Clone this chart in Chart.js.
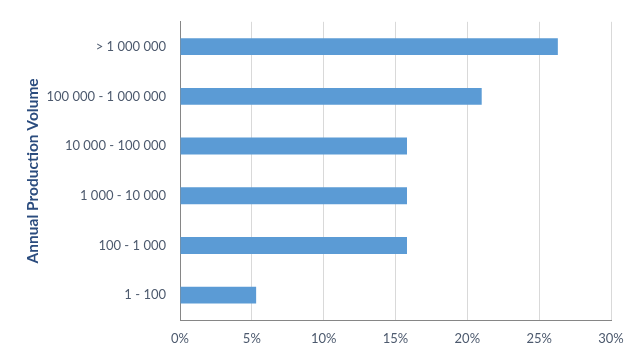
<!DOCTYPE html>
<html><head><meta charset="utf-8">
<script src="https://cdn.jsdelivr.net/npm/chart.js@4"></script>
<style>html,body{margin:0;padding:0;background:#fff}#wrap{width:642px;height:359px}</style>
</head><body><div id="wrap"><canvas id="c" width="642" height="359"></canvas></div>
<script>
const categories = ["> 1 000 000", "100 000 - 1 000 000", "10 000 - 100 000", "1 000 - 10 000", "100 - 1 000", "1 - 100"];
const shares = [26.3, 21.0, 15.8, 15.8, 15.8, 5.3];
const xTicks = [0, 5, 10, 15, 20, 25, 30];
const yTitle = "Annual Production Volume";

new Chart(document.getElementById('c'), {
  type: 'bar',
  data: { labels: categories, datasets: [{ data: shares, backgroundColor: '#5B9BD5', borderWidth: 0, barPercentage: 0.34, categoryPercentage: 1 }] },
  options: {
    indexAxis: 'y', responsive: false, animation: false, devicePixelRatio: 1,
    layout: { padding: { top: 16, right: 31, bottom: 0, left: 0 } },
    plugins: { legend: { display: false }, tooltip: { enabled: false } },
    scales: {
      x: {
        min: 0, max: 30,
        afterBuildTicks: s => { s.ticks = xTicks.map(v => ({ value: v })); },
        afterFit: s => { s.height = 39; },
        grid: { color: '#D9D9D9', drawTicks: false, lineWidth: 1 },
        border: { color: '#868686', width: 1 },
        ticks: { padding: 11, color: '#4D5A6E', font: { family: 'Lato', size: 13 }, callback: v => v + '%' }
      },
      y: {
        afterFit: s => { s.width = 180; },
        grid: { display: false, drawTicks: false },
        border: { display: true, color: '#868686', width: 1 },
        ticks: { padding: 14, color: '#4D5A6E', font: { family: 'Lato', size: 13 } },
        title: { display: true, text: yTitle, color: '#2B4C7E', font: { family: 'Lato', size: 15.5, weight: 'bold' }, padding: { top: 24, bottom: 0 } }
      }
    }
  }
});
</script></body></html>
